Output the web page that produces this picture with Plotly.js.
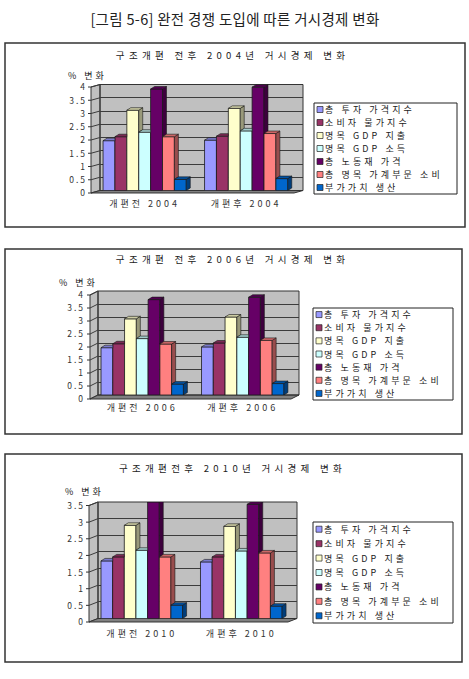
<!DOCTYPE html>
<html><head><meta charset="utf-8">
<script src="https://cdn.plot.ly/plotly-3.0.1.min.js"></script>
<style>
html,body{margin:0;padding:0;background:#fff;}
#chart{width:469px;height:679px;}
</style>
<style id="spacing"></style>
</head><body><div id="chart"></div>
<script>
// ---------- DATA ----------
const mainTitle = '[그림 5-6] 완전 경쟁 도입에 따른 거시경제 변화';
const chartTitles = ['구조개편 전후 2004년 거시경제 변화', '구조개편 전후 2006년 거시경제 변화', '구조개편전후 2010년 거시경제 변화'];
const yAxisLabel = '% 변화';
const seriesNames = ['총 투자 가격지수', '소비자 물가지수', '명목 GDP 지출', '명목 GDP 소득', '총 노동재 가격', '총 명목 가계부문 소비', '부가가치 생산'];
const seriesColors = ['#9999FF', '#993366', '#FFFFCC', '#CCFFFF', '#660066', '#FF8080', '#0066CC'];
const categories2004 = ['개편전 2004', '개편후 2004'];
const categories2006 = ['개편전 2006', '개편후 2006'];
const categories2010 = ['개편전 2010', '개편후 2010'];
const values2004Before = [1.88, 2.03, 3.03, 2.20, 3.83, 2.03, 0.42];
const values2004After  = [1.90, 2.05, 3.10, 2.25, 3.90, 2.15, 0.45];
const values2006Before = [1.82, 1.97, 2.93, 2.17, 3.67, 1.96, 0.42];
const values2006After  = [1.85, 2.00, 3.00, 2.22, 3.76, 2.10, 0.44];
const values2010Before = [1.73, 1.85, 2.80, 2.05, 3.50, 1.85, 0.40];
const values2010After  = [1.70, 1.85, 2.77, 2.03, 3.43, 1.97, 0.37];
const yMax2004 = 4, yMax2006 = 4, yMax2010 = 3.5;

// ---------- LAYOUT GEOMETRY (pixels) ----------
const W = 469, H = 679;
const X = v => v / W;
const Y = v => 1 - v / H;
const FONT = '"Noto Sans CJK KR", "Noto Sans", sans-serif';

const panels = [
  {cats: categories2004, before: values2004Before, after: values2004After, title: chartTitles[0], ymax: yMax2004,
   box: [5, 43, 465, 227], wall: [100, 84.5, 303, 190.5], depth: [9, 2.5], tickShift: 3, catY: 202, titleXY: [232, 55], ylabXY: [66, 75], legend: [314, 103, 457, 194]},
  {cats: categories2006, before: values2006Before, after: values2006After, title: chartTitles[1], ymax: yMax2006,
   box: [5, 249, 462, 434], wall: [98, 291, 299, 395], depth: [8, 4], tickShift: 4, catY: 407, titleXY: [232, 259], ylabXY: [57, 282], legend: [313, 308, 453, 400]},
  {cats: categories2010, before: values2010Before, after: values2010After, title: chartTitles[2], ymax: yMax2010,
   box: [5, 454, 462, 662], wall: [98, 502, 297, 618.5], depth: [9, 3.5], tickShift: 4, catY: 632, titleXY: [232, 468], ylabXY: [63, 491], legend: [313, 522, 453, 623]}
];

const XRANGE = [-0.44, 1.56];
const BARGAP = 0.18;
const FACE_DX = 4, FACE_DY = 2.5; // px depth of bar side/top faces

function shade(hex, f) {
  const n = parseInt(hex.slice(1), 16);
  const r = Math.round(((n >> 16) & 255) * f), g = Math.round(((n >> 8) & 255) * f), b = Math.round((n & 255) * f);
  return 'rgb(' + r + ',' + g + ',' + b + ')';
}

const traces = [], shapes = [], annTitles = [], annYlab = [], annLegend = [];
const layout = {
  width: W, height: H, margin: {l: 0, r: 0, t: 0, b: 0},
  paper_bgcolor: '#ffffff', plot_bgcolor: '#c0c0c0',
  barmode: 'group', bargap: BARGAP, bargroupgap: 0, showlegend: false,
  font: {family: FONT, size: 9, color: '#222'},
  title: {text: mainTitle, x: X(235), xanchor: 'center', y: Y(20), yanchor: 'middle', font: {family: FONT, size: 14.5, color: '#222'}}
};

panels.forEach((p, k) => {
  const sfx = k === 0 ? '' : String(k + 1);
  const xa = 'x' + sfx, ya = 'y' + sfx;
  const [wx0, wy0, wx1, wy1] = p.wall;
  const [dx, dy] = p.depth;
  const xIdx = p.cats.map((c, i) => i);

  seriesNames.forEach((name, s) => {
    traces.push({
      type: 'bar', name: name, x: xIdx, y: [p.before[s], p.after[s]],
      xaxis: xa, yaxis: ya, showlegend: false, hoverinfo: 'skip',
      marker: {color: seriesColors[s], line: {color: '#1a1a1a', width: 0.8}}
    });
  });

  layout['xaxis' + sfx] = {
    domain: [X(wx0), X(wx1)], anchor: ya, range: XRANGE, fixedrange: true,
    tickvals: xIdx, ticktext: p.cats, showgrid: false, zeroline: false, showline: false, ticks: '',
    ticklabelstandoff: Math.max(0, Math.round(p.catY - wy1 - 6)), tickfont: {family: FONT, size: 9, color: '#333'}
  };
  layout['yaxis' + sfx] = {
    domain: [Y(wy1), Y(wy0)], anchor: xa, range: [0, p.ymax], dtick: 0.5, tick0: 0, fixedrange: true,
    showgrid: true, gridcolor: '#3c3c3c', gridwidth: 1, zeroline: false, showline: false, ticks: '',
    ticklabelstandoff: 12, ticklabelshift: p.tickShift, tickfont: {family: FONT, size: 8.5, color: '#333'}
  };

  shapes.push({type: 'rect', xref: 'paper', yref: 'paper', layer: 'below',
    x0: X(p.box[0]), x1: X(p.box[2]), y0: Y(p.box[1]), y1: Y(p.box[3]), line: {color: '#333', width: 1.5}});
  const P = (x, y) => X(x).toFixed(5) + ',' + Y(y).toFixed(5);
  shapes.push({type: 'path', xref: 'paper', yref: 'paper', layer: 'below', fillcolor: '#c0c0c0', line: {color: '#333', width: 1},
    path: 'M' + P(wx0, wy0) + 'L' + P(wx0, wy1) + 'L' + P(wx0 - dx, wy1 + dy) + 'L' + P(wx0 - dx, wy0 + dy) + 'Z'});
  shapes.push({type: 'path', xref: 'paper', yref: 'paper', layer: 'below', fillcolor: '#808080', line: {color: '#333', width: 1},
    path: 'M' + P(wx0, wy1) + 'L' + P(wx1, wy1) + 'L' + P(wx1 - dx, wy1 + dy) + 'L' + P(wx0 - dx, wy1 + dy) + 'Z'});
  shapes.push({type: 'rect', xref: 'paper', yref: 'paper', layer: 'below',
    x0: X(wx0), x1: X(wx1), y0: Y(wy0), y1: Y(wy1), line: {color: '#333', width: 1}});
  const hPerUnit = (wy1 - wy0) / p.ymax;
  for (let v = 0; v <= p.ymax + 1e-9; v += 0.5) {
    const yb = wy1 - v * hPerUnit;
    if (v > 0) shapes.push({type: 'line', xref: 'paper', yref: 'paper', layer: 'below',
      x0: X(wx0), y0: Y(yb), x1: X(wx0 - dx), y1: Y(yb + dy), line: {color: '#3c3c3c', width: 1}});
    shapes.push({type: 'line', xref: 'paper', yref: 'paper', layer: 'below',
      x0: X(wx0 - dx), y0: Y(yb + dy), x1: X(wx0 - dx - 3), y1: Y(yb + dy), line: {color: '#333', width: 1}});
  }

  // 3D faces of bars (computed from the data values)
  const gw = 1 - BARGAP, bw = gw / seriesNames.length;
  const xUnitPx = (wx1 - wx0) / (XRANGE[1] - XRANGE[0]);
  const dxD = FACE_DX / xUnitPx, dyD = FACE_DY / hPerUnit;
  xIdx.forEach(i => {
    const vals = i === 0 ? p.before : p.after;
    vals.forEach((v, s) => {
      const xl = i - gw / 2 + s * bw, xr = xl + bw;
      const last = s === vals.length - 1;
      const next = last ? 0 : vals[s + 1];
      const col = seriesColors[s];
      const Q = (x, y) => x.toFixed(5) + ',' + y.toFixed(5);
      if (v > next) {
        shapes.push({type: 'path', xref: xa, yref: ya, layer: 'above', fillcolor: shade(col, 0.6), line: {color: '#1a1a1a', width: 0.6},
          path: 'M' + Q(xr, next) + 'L' + Q(xr, v) + 'L' + Q(xr + dxD, v + dyD) + 'L' + Q(xr + dxD, next + dyD) + 'Z'});
      }
      const topPath = (!last && next > v)
        ? 'M' + Q(xl, v) + 'L' + Q(xr, v) + 'L' + Q(xr, v + dyD) + 'L' + Q(xl + dxD, v + dyD) + 'Z'
        : 'M' + Q(xl, v) + 'L' + Q(xr, v) + 'L' + Q(xr + dxD, v + dyD) + 'L' + Q(xl + dxD, v + dyD) + 'Z';
      shapes.push({type: 'path', xref: xa, yref: ya, layer: 'above', fillcolor: shade(col, 0.8), line: {color: '#1a1a1a', width: 0.6}, path: topPath});
    });
  });

  annTitles.push({xref: 'paper', yref: 'paper', x: X(p.titleXY[0]), y: Y(p.titleXY[1]), xanchor: 'center', yanchor: 'middle',
    text: p.title, showarrow: false, font: {family: FONT, size: 9.5, color: '#222'}});
  annYlab.push({xref: 'paper', yref: 'paper', x: X(p.ylabXY[0]), y: Y(p.ylabXY[1]), xanchor: 'left', yanchor: 'middle', align: 'left',
    text: yAxisLabel, showarrow: false, font: {family: FONT, size: 9, color: '#222'}});

  const [lx0, ly0, lx1, ly1] = p.legend;
  shapes.push({type: 'rect', xref: 'paper', yref: 'paper', layer: 'below', fillcolor: '#ffffff',
    x0: X(lx0), x1: X(lx1), y0: Y(ly0), y1: Y(ly1), line: {color: '#222', width: 1}});
  const rowH = (ly1 - ly0) / seriesNames.length;
  seriesNames.forEach((name, s) => {
    const yc = ly0 + (s + 0.5) * rowH;
    shapes.push({type: 'rect', xref: 'paper', yref: 'paper', layer: 'above', fillcolor: seriesColors[s],
      x0: X(lx0 + 3), x1: X(lx0 + 9), y0: Y(yc - 3), y1: Y(yc + 3), line: {color: '#222', width: 0.7}});
    annLegend.push({xref: 'paper', yref: 'paper', x: X(lx0 + 9), y: Y(yc), xanchor: 'left', yanchor: 'middle', align: 'left',
      text: name, showarrow: false, font: {family: FONT, size: 9, color: '#222'}});
  });
});

layout.shapes = shapes;
layout.annotations = annTitles.concat(annYlab, annLegend);

let css = '.annotation text{letter-spacing:3.1px;}';
annTitles.forEach((a, i) => { css += '.annotation[data-index="' + i + '"] text{letter-spacing:4.3px;}'; });
annYlab.forEach((a, i) => { css += '.annotation[data-index="' + (annTitles.length + i) + '"] text{letter-spacing:3px;}'; });
css += '.xtick text,.x2tick text,.x3tick text{letter-spacing:3px;}';
css += '.ytick text,.y2tick text,.y3tick text{letter-spacing:2px;}';
css += '.gtitle{letter-spacing:0.3px;}';
document.getElementById('spacing').textContent = css;

Plotly.newPlot('chart', traces, layout, {staticPlot: true, displayModeBar: false});
</script>
</body></html>
